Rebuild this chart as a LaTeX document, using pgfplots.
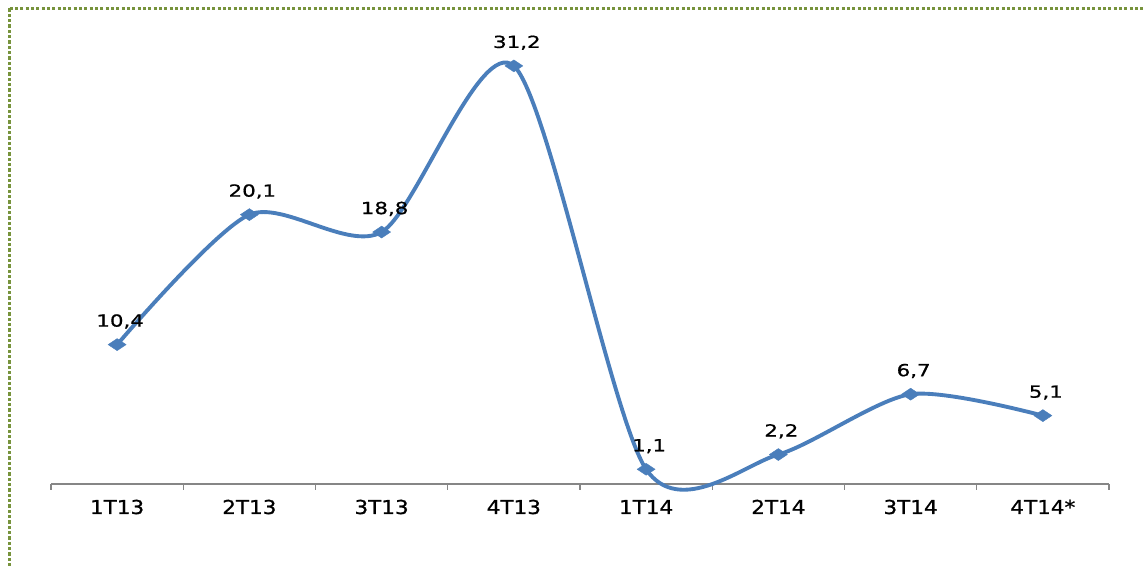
\documentclass[border=0pt]{standalone}
\usepackage{pgfplots}
\pgfplotsset{compat=1.18}
\usepackage{fontspec}
\setmainfont{DejaVu Sans}
\newfontfamily\xlab[FakeStretch=1.12,FakeBold=0.9]{DejaVu Sans}
\newfontfamily\dlab[FakeStretch=1.28,FakeBold=0.8]{DejaVu Sans}
\definecolor{serie}{HTML}{4A7EBB}
\definecolor{axisgray}{HTML}{868686}
\definecolor{olive}{HTML}{77933C}
\begin{document}
\begin{tikzpicture}[x=0.75pt,y=0.75pt]
\useasboundingbox (0,0) rectangle (1143,566);
\draw[olive, line width=2.4pt, dash pattern=on 2.4pt off 1.6pt] (9.5,557.5) -- (1143,557.5);
\draw[olive, line width=2.4pt, dash pattern=on 2.4pt off 1.6pt] (9.5,557.5) -- (9.5,0);
\begin{axis}[
  at={(38.25pt,61.5pt)}, anchor=south west,
  scale only axis, width=793.5pt, height=351.75pt,
  xmin=-0.5, xmax=7.5, ymin=0, ymax=35,
  axis x line*=bottom, axis y line=none,
  axis line style={axisgray, line width=1pt, -},
  xtick={0,...,7},
  xticklabels={1T13,2T13,3T13,4T13,1T14,2T14,3T14,4T14*},
  major tick length=0pt,
  extra x ticks={-0.5,0.5,...,7.5},
  extra x tick labels={},
  extra x tick style={tick align=outside, major tick length=4.5pt, tick style={axisgray, line width=1pt}},
  xticklabel style={anchor=base, yshift=-22.5pt, font=\xlab\fontsize{14.4}{17}\selectfont},
  clip=false,
  nodes near coords,
  point meta=explicit symbolic,
  nodes near coords style={anchor=base, yshift=13.5pt, xshift=2.25pt, font=\dlab\fontsize{12.5}{15}\selectfont, text=black},
]
\addplot[serie, line width=2.9pt, smooth, tension=0.46, mark=diamond*, mark size=4.5pt, mark options={solid, line width=0.3pt, xscale=2}]
 table[meta=lab] {
x y lab
0 10.4 10,4
1 20.1 20,1
2 18.8 18,8
3 31.2 31,2
4 1.1 1,1
5 2.2 2,2
6 6.7 6,7
7 5.1 5,1
};
\end{axis}
\end{tikzpicture}
\end{document}
